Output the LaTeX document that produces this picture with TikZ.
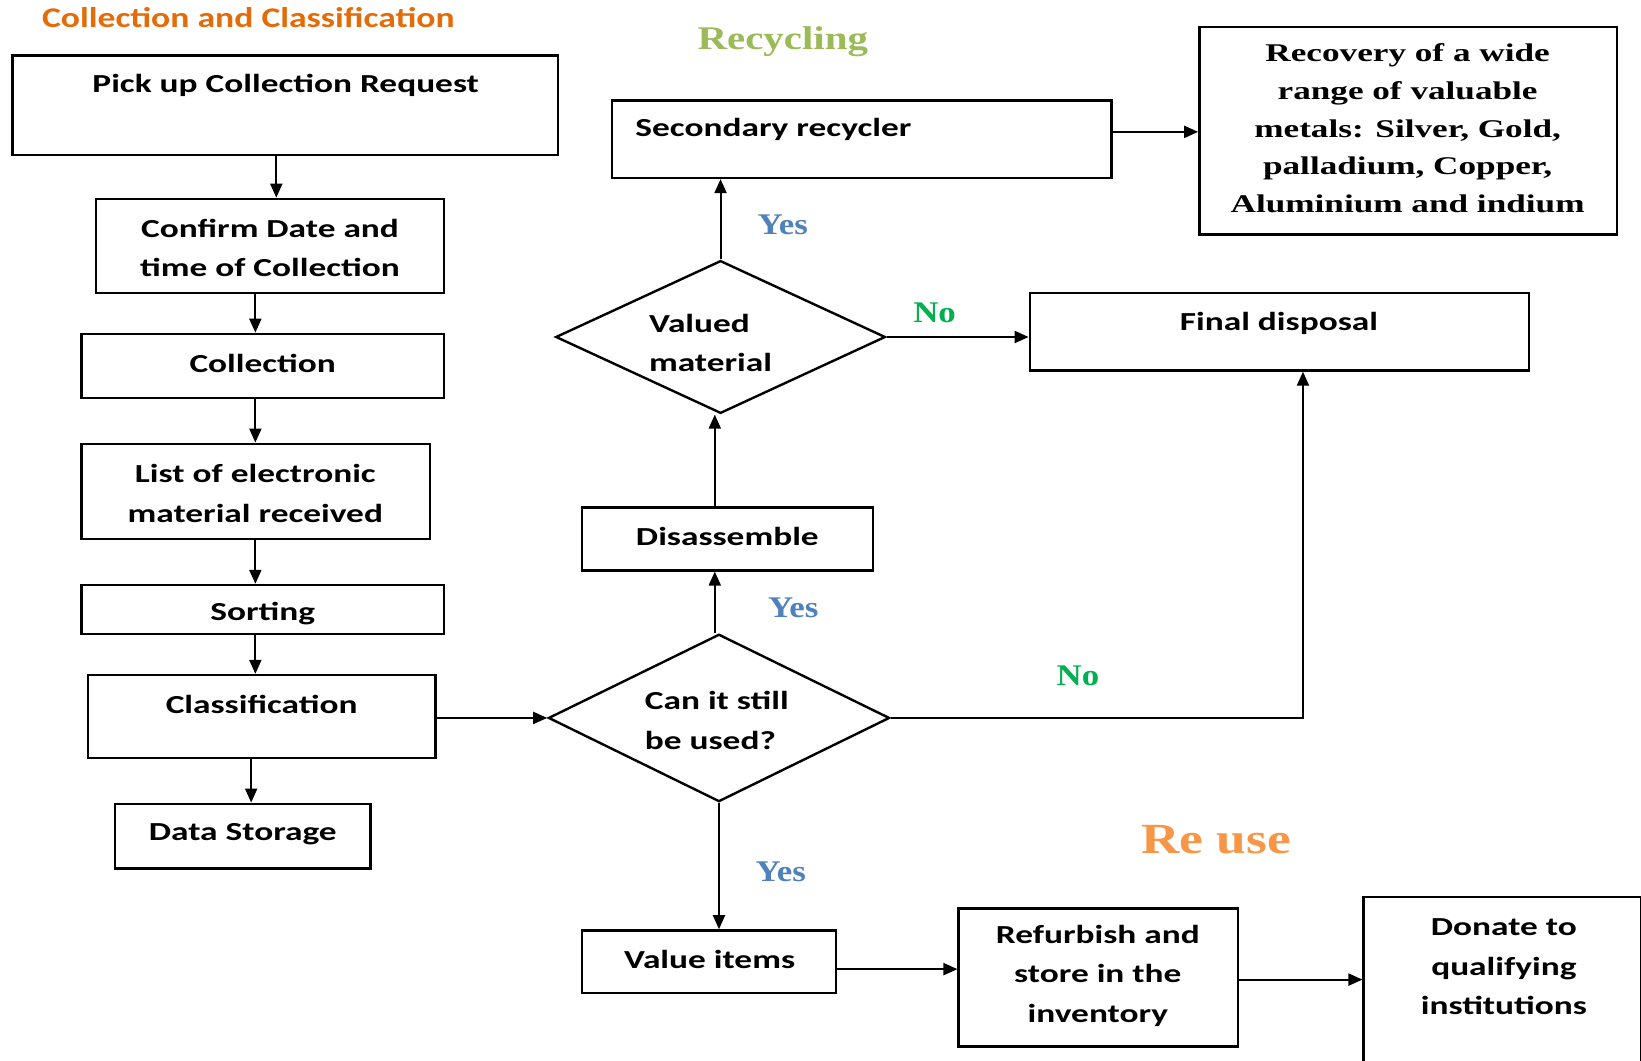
\documentclass[tikz,border=0pt]{standalone}
\usepackage{fontspec}
\usetikzlibrary{arrows.meta,shapes.geometric,fit}
\newfontfamily\boxfont{Carlito}[FakeStretch=1.36]
\newfontfamily\ttlfont{Carlito}[FakeStretch=1.25]
\newfontfamily\serfont{Liberation Serif}[FakeStretch=1.38]
\newfontfamily\lblfont{Liberation Serif}[FakeStretch=1.16]
\newfontfamily\hdfont{Liberation Serif}[FakeStretch=1.24]
\definecolor{ttlorange}{HTML}{E36C09}
\definecolor{recgreen}{HTML}{9BBB59}
\definecolor{reuseorange}{HTML}{F79646}
\definecolor{yesblue}{HTML}{4F81BD}
\definecolor{nogreen}{HTML}{00B050}
\begin{document}
\begin{tikzpicture}[x=1.0466pt, y=-1.0466pt,
  box/.style={draw, rectangle, line width=2.4pt, inner sep=0pt},
  dia/.style={draw, diamond, line width=2.4pt, inner sep=0pt},
  boxtxt/.style={font=\boxfont\bfseries\fontsize{26}{39.5}\selectfont, align=center, inner sep=0pt, yshift=-2pt},
  sertxt/.style={font=\serfont\bfseries\fontsize{25.5}{37.7}\selectfont, align=center, inner sep=0pt},
  yeslbl/.style={font=\lblfont\bfseries\fontsize{30}{32}\selectfont, text=yesblue, inner sep=0pt},
  nolbl/.style={font=\lblfont\bfseries\fontsize{30}{32}\selectfont, text=nogreen, inner sep=0pt},
  arr/.style={line width=2pt, -{Triangle[length=14pt,width=12pt]}},
]
\fill[white] (0,0) rectangle (1568,1013);
\useasboundingbox (0,0) rectangle (1568,1013);

% helper coordinates
\coordinate (colA) at (264,0);
\coordinate (colL) at (244,0);
\coordinate (colF) at (240,0);
\coordinate (colM) at (683,0);
\coordinate (rowS) at (0,126);
\coordinate (rowV) at (0,926);
\coordinate (rowR) at (0,936);
\coordinate (k) at (1245,687);

% headings
\node[font=\ttlfont\bfseries\fontsize{28.5}{30}\selectfont, text=ttlorange, anchor=west, inner sep=0pt] (title) at (40,17) {Collection and Classification};
\node[font=\hdfont\bfseries\fontsize{33}{35}\selectfont, text=recgreen, inner sep=0pt] (recy) at (748,40) {Recycling};
\node[font=\hdfont\bfseries\fontsize{43}{45}\selectfont, text=reuseorange, inner sep=0pt] (reuse) at (1162,802) {Re use};

% left column
\node[box, fit={(12,53) (533,148)}] (A) {};
\node[boxtxt] (At) at (273,80) {Pick up Collection Request};
\node[box, fit={(92,190) (424,280)}] (B) {};
\node[boxtxt] (Bt) at (258,235) {Confirm Date and\\time of Collection};
\node[box, fit={(78,319) (424,380)}] (C) {};
\node[boxtxt] (Ct) at (251,345) {Collection};
\node[box, fit={(78,424) (411,515)}] (D) {};
\node[boxtxt] (Dt) at (244,469.5) {List of electronic\\material received};
\node[box, fit={(78,559) (424,606)}] (E) {};
\node[boxtxt] (Et) at (251,584) {Sorting};
\node[box, fit={(84,645) (416,724)}] (F) {};
\node[boxtxt] (Ft) at (250,671) {Classification};
\node[box, fit={(110,768) (354,830)}] (G) {};
\node[boxtxt] (Gt) at (232,795) {Data Storage};

% decisions
\node[dia, minimum width=326*1.0466pt, minimum height=160*1.0466pt] (d1) at (687,686) {};
\node[boxtxt, align=left, anchor=west] (d1t) at (616,686.5) {Can it still\\be used?};
\node[dia, minimum width=315*1.0466pt, minimum height=146*1.0466pt] (d2) at (688.5,322) {};
\node[boxtxt, align=left, anchor=west] (d2t) at (620,326) {Valued\\material};

% middle / right
\node[box, fit={(556,485) (834,545)}] (dis) {};
\node[boxtxt] (dist) at (695,511) {Disassemble};
\node[box, fit={(585,96) (1062,170)}] (sec) {};
\node[boxtxt, anchor=west] (sect) at (607,122) {Secondary recycler};
\node[box, fit={(1146,26) (1545,224)}] (rec) {};
\node[sertxt] (rect) at (1345,122.5) {Recovery of a wide\\range of valuable\\metals: Silver, Gold,\\palladium, Copper,\\Aluminium and indium};
\node[box, fit={(984,280) (1461,354)}] (fin) {};
\node[boxtxt] (fint) at (1222,307) {Final disposal};
\node[box, fit={(556,889) (799,949)}] (val) {};
\node[boxtxt] (valt) at (678,915) {Value items};
\node[box, fit={(916,868) (1183,1000)}] (ref) {};
\node[boxtxt] (reft) at (1049,930.5) {Refurbish and\\store in the\\inventory};
\node[box, fit={(1303,857) (1568,1030)}] (don) {};
\node[boxtxt] (dont) at (1437,922) {Donate to\\qualifying\\institutions};

% labels
\node[yeslbl] (y1) at (748,215) {Yes};
\node[yeslbl] (y2) at (758,581) {Yes};
\node[yeslbl] (y3) at (746,833) {Yes};
\node[nolbl] (n1) at (893,299) {No};
\node[nolbl] (n2) at (1030,646) {No};

% connectors
\draw[arr] (A.south -| colA) -- (B.north -| colA);
\draw[arr] (B.south -| colL) -- (C.north -| colL);
\draw[arr] (C.south -| colL) -- (D.north -| colL);
\draw[arr] (D.south -| colL) -- (E.north -| colL);
\draw[arr] (E.south -| colL) -- (F.north -| colL);
\draw[arr] (F.south -| colF) -- (G.north -| colF);
\draw[arr] (F.east |- d1.west) -- (d1.west);
\draw[arr] (d1.north -| colM) -- (dis.south -| colM);
\draw[arr] (dis.north -| colM) -- (d2.south -| colM);
\draw[arr] (d2.north) -- (sec.south -| d2.north);
\draw[arr] (sec.east |- rowS) -- (rec.west |- rowS);
\draw[arr] (d2.east) -- (fin.west |- d2.east);
\draw[arr] (d1.east) -- (d1.east -| k) -- (fin.south -| k);
\draw[arr] (d1.south) -- (val.north -| d1.south);
\draw[arr] (val.east |- rowV) -- (ref.west |- rowV);
\draw[arr] (ref.east |- rowR) -- (don.west |- rowR);
\end{tikzpicture}
\end{document}
